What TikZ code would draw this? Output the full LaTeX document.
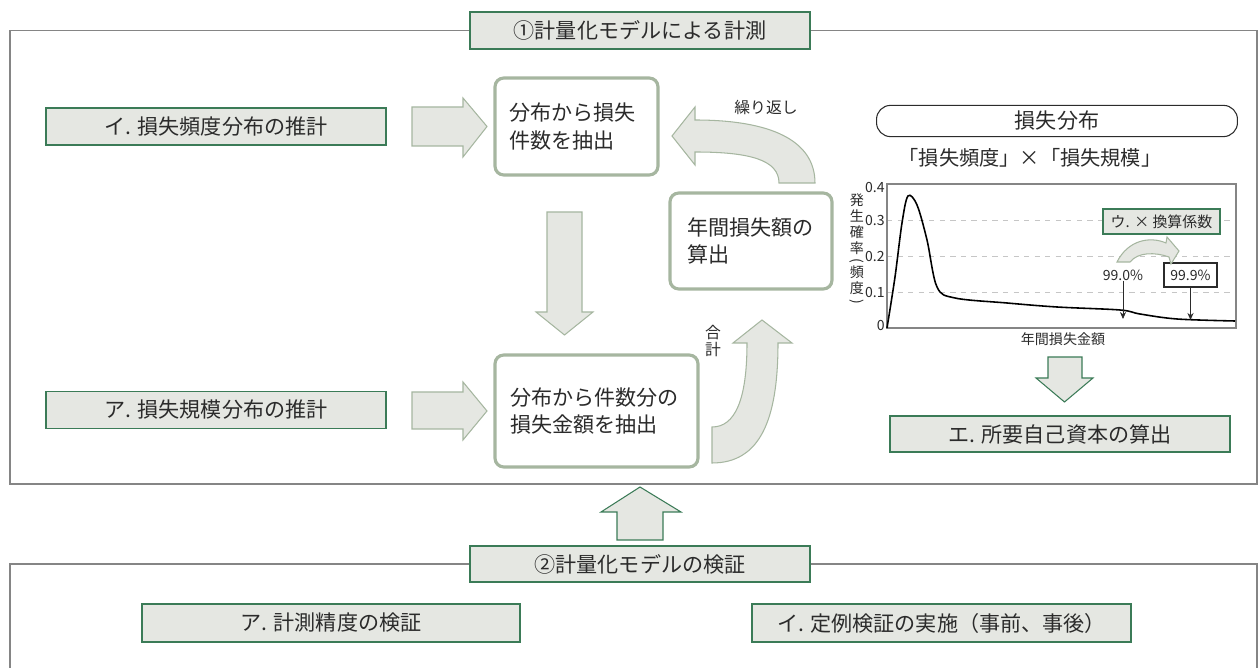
\documentclass[tikz,border=0pt]{standalone}
\usepackage{fontspec}
\setmainfont{Noto Sans CJK JP}
\usetikzlibrary{arrows.meta}

\definecolor{boxfill}{HTML}{E5E7E2}
\definecolor{boxgreen}{HTML}{3B7B57}
\definecolor{softgreen}{HTML}{A6B6A0}
\definecolor{framegray}{HTML}{858585}
\definecolor{textdark}{HTML}{2B2B2B}

\newcommand{\vparen}[1]{\rotatebox[origin=c]{-90}{#1}}

\tikzset{
	labelbox/.style={draw=boxgreen, line width=1.1pt, fill=boxfill, text=textdark,
		font=\fontsize{12}{14}\selectfont, minimum height=0.74cm, inner sep=0pt},
	stepbox/.style={draw=softgreen, line width=1.8pt, rounded corners=5pt, fill=white,
		align=left, text=textdark, font=\fontsize{12}{15.5}\selectfont},
	blockarrow/.style={draw=softgreen, fill=boxfill, line width=0.6pt},
	framelines/.style={draw=framegray, line width=1pt},
	smalltext/.style={text=textdark, inner sep=0pt, font=\fontsize{8}{9}\selectfont},
	ptr/.style={-{Stealth[length=4pt,width=3.5pt]}, line width=0.5pt, draw=textdark},
}

\begin{document}
\begin{tikzpicture}[x=0.02cm, y=-0.02cm]
	\useasboundingbox (0,0) rectangle (1259,668);

	% measurement frame
	\node[labelbox, minimum width=6.8cm] (meas) at (640,30.5) {①計量化モデルによる計測};
	\draw[framelines] (meas.west) -- (10,30.5) -- (10,484) -- (1257,484) -- (1257,30.5) -- (meas.east);

	\node[labelbox, minimum width=6.8cm] (estfreq) at (216,126.5) {イ. 損失頻度分布の推計};
	\node[labelbox, minimum width=6.8cm] (estsize) at (216,410) {ア. 損失規模分布の推計};

	\node[stepbox, minimum width=3.26cm, minimum height=1.94cm, text width=2.7cm, inner xsep=0.28cm] (drawnum) at (576.5,126.5) {分布から損失\\件数を抽出};
	\node[stepbox, minimum width=4.06cm, minimum height=2.24cm, text width=3.46cm, inner xsep=0.3cm] (drawamt) at (596.5,411) {分布から件数分の\\損失金額を抽出};
	\node[stepbox, minimum width=3.24cm, minimum height=1.92cm, text width=2.56cm, inner xsep=0.34cm] (annual) at (751,241) {年間損失額の\\算出};

	% block arrows
	\draw[blockarrow] (412,107) -- (463,107) -- (463,98) -- (487,126.5) -- (463,157) -- (463,146) -- (412,146) -- cycle;
	\draw[blockarrow] (412,392) -- (463,392) -- (463,382) -- (487,411) -- (463,440) -- (463,429) -- (412,429) -- cycle;
	\draw[blockarrow] (547,212) -- (582,212) -- (582,312) -- (593,312) -- (564.5,335) -- (536,312) -- (547,312) -- cycle;
	\draw[blockarrow] (815,183) .. controls (815,140) and (770,120) .. (695,120) -- (695,107) -- (672,136) -- (695,165) -- (695,152)
		.. controls (750,152) and (779,160) .. (779,183) -- cycle;
	\draw[blockarrow] (712,463) .. controls (760,463) and (778,420) .. (778,343) -- (792,343) -- (762,320) -- (733,343) -- (747,343)
		.. controls (747,400) and (735,427) .. (712,427) -- cycle;
	\node[text=textdark, font=\fontsize{9}{10}\selectfont] (repeat) at (766,107) {繰り返し};
	\node[text=textdark, font=\fontsize{9}{9.5}\selectfont, align=center, inner sep=0pt] (sumlab) at (713,341) {合\\計};

	% loss distribution
	\node[draw=textdark, line width=0.6pt, rounded corners=0.28cm, minimum width=7.22cm, minimum height=0.56cm,
		text=textdark, font=\fontsize{12}{14}\selectfont] (dist) at (1057,121) {損失分布};
	\node[text=textdark, font=\fontsize{11.5}{14}\selectfont] (formula) at (1030,158) {「損失頻度」×「損失規模」};

	\foreach \g in {220,256,292}
		\draw[draw=gray!45, dashed, line width=0.5pt] (887,\g) -- (1236,\g);
	\draw[draw=framegray, line width=0.8pt] (887,184) rectangle (1236,328);
	\foreach \v/\y in {0.4/187, 0.3/220, 0.2/256, 0.1/292, 0/325}
		\node[smalltext, anchor=east] (yt\y) at (885,\y) {\v};
	\node[smalltext, align=center, font=\fontsize{8}{9}\selectfont] (ylab) at (857,250)
		{発\\生\\確\\率\\[-2pt]\vparen{(}\\[-2pt]頻\\度\\[-2pt]\vparen{)}};
	\draw[line width=0.9pt] plot[smooth, tension=0.55] coordinates {(887,328) (895,277) (902,223) (908,196) (917,205) (927,240) (937,287)
		(955,298) (1007,303) (1057,307) (1120,310) (1140,314) (1177,319) (1235,321)};
	\node[smalltext] (xlab) at (1063,339) {年間損失金額};

	\node[smalltext] (p990) at (1123,275) {99.0\%};
	\draw[ptr] (p990.south) -- (1123,319);
	\node[smalltext, draw=textdark, line width=0.6pt, fill=white, minimum width=1.06cm, minimum height=0.48cm] (p999) at (1190.5,275) {99.9\%};
	\draw[ptr] (p999.south) -- (1190.5,320);
	\node[labelbox, minimum width=2.34cm, minimum height=0.5cm, line width=0.9pt, font=\fontsize{8.5}{10}\selectfont] (conv) at (1161.5,221.5) {ウ. × 換算係数};
	\draw[blockarrow] (1117,262) .. controls (1128,240) and (1150,236) .. (1166,243) -- (1167,237) -- (1179,251) -- (1171,264) -- (1169,257)
		.. controls (1155,252) and (1138,252) .. (1130,262) -- cycle;

	\draw[blockarrow, draw=boxgreen] (1048,357) -- (1082,357) -- (1082,378) -- (1093,378) -- (1064.5,402) -- (1036,378) -- (1048,378) -- cycle;
	\node[labelbox, minimum width=6.8cm, minimum height=0.72cm] (capital) at (1060,434) {エ. 所要自己資本の算出};

	% verification frame
	\draw[blockarrow, draw=boxgreen] (617,540) -- (617,512) -- (601,512) -- (640,487) -- (681,512) -- (663,512) -- (663,540) -- cycle;
	\node[labelbox, minimum width=6.8cm, minimum height=0.72cm] (verif) at (640,564) {②計量化モデルの検証};
	\draw[framelines] (verif.west) -- (10,564) -- (10,668);
	\draw[framelines] (verif.east) -- (1257,564) -- (1257,668);

	\node[labelbox, minimum width=7.56cm, minimum height=0.76cm] (accuracy) at (331,623) {ア. 計測精度の検証};
	\node[labelbox, minimum width=7.58cm, minimum height=0.76cm] (routine) at (941.5,623) {イ. 定例検証の実施（事前、事後）};
\end{tikzpicture}
\end{document}
